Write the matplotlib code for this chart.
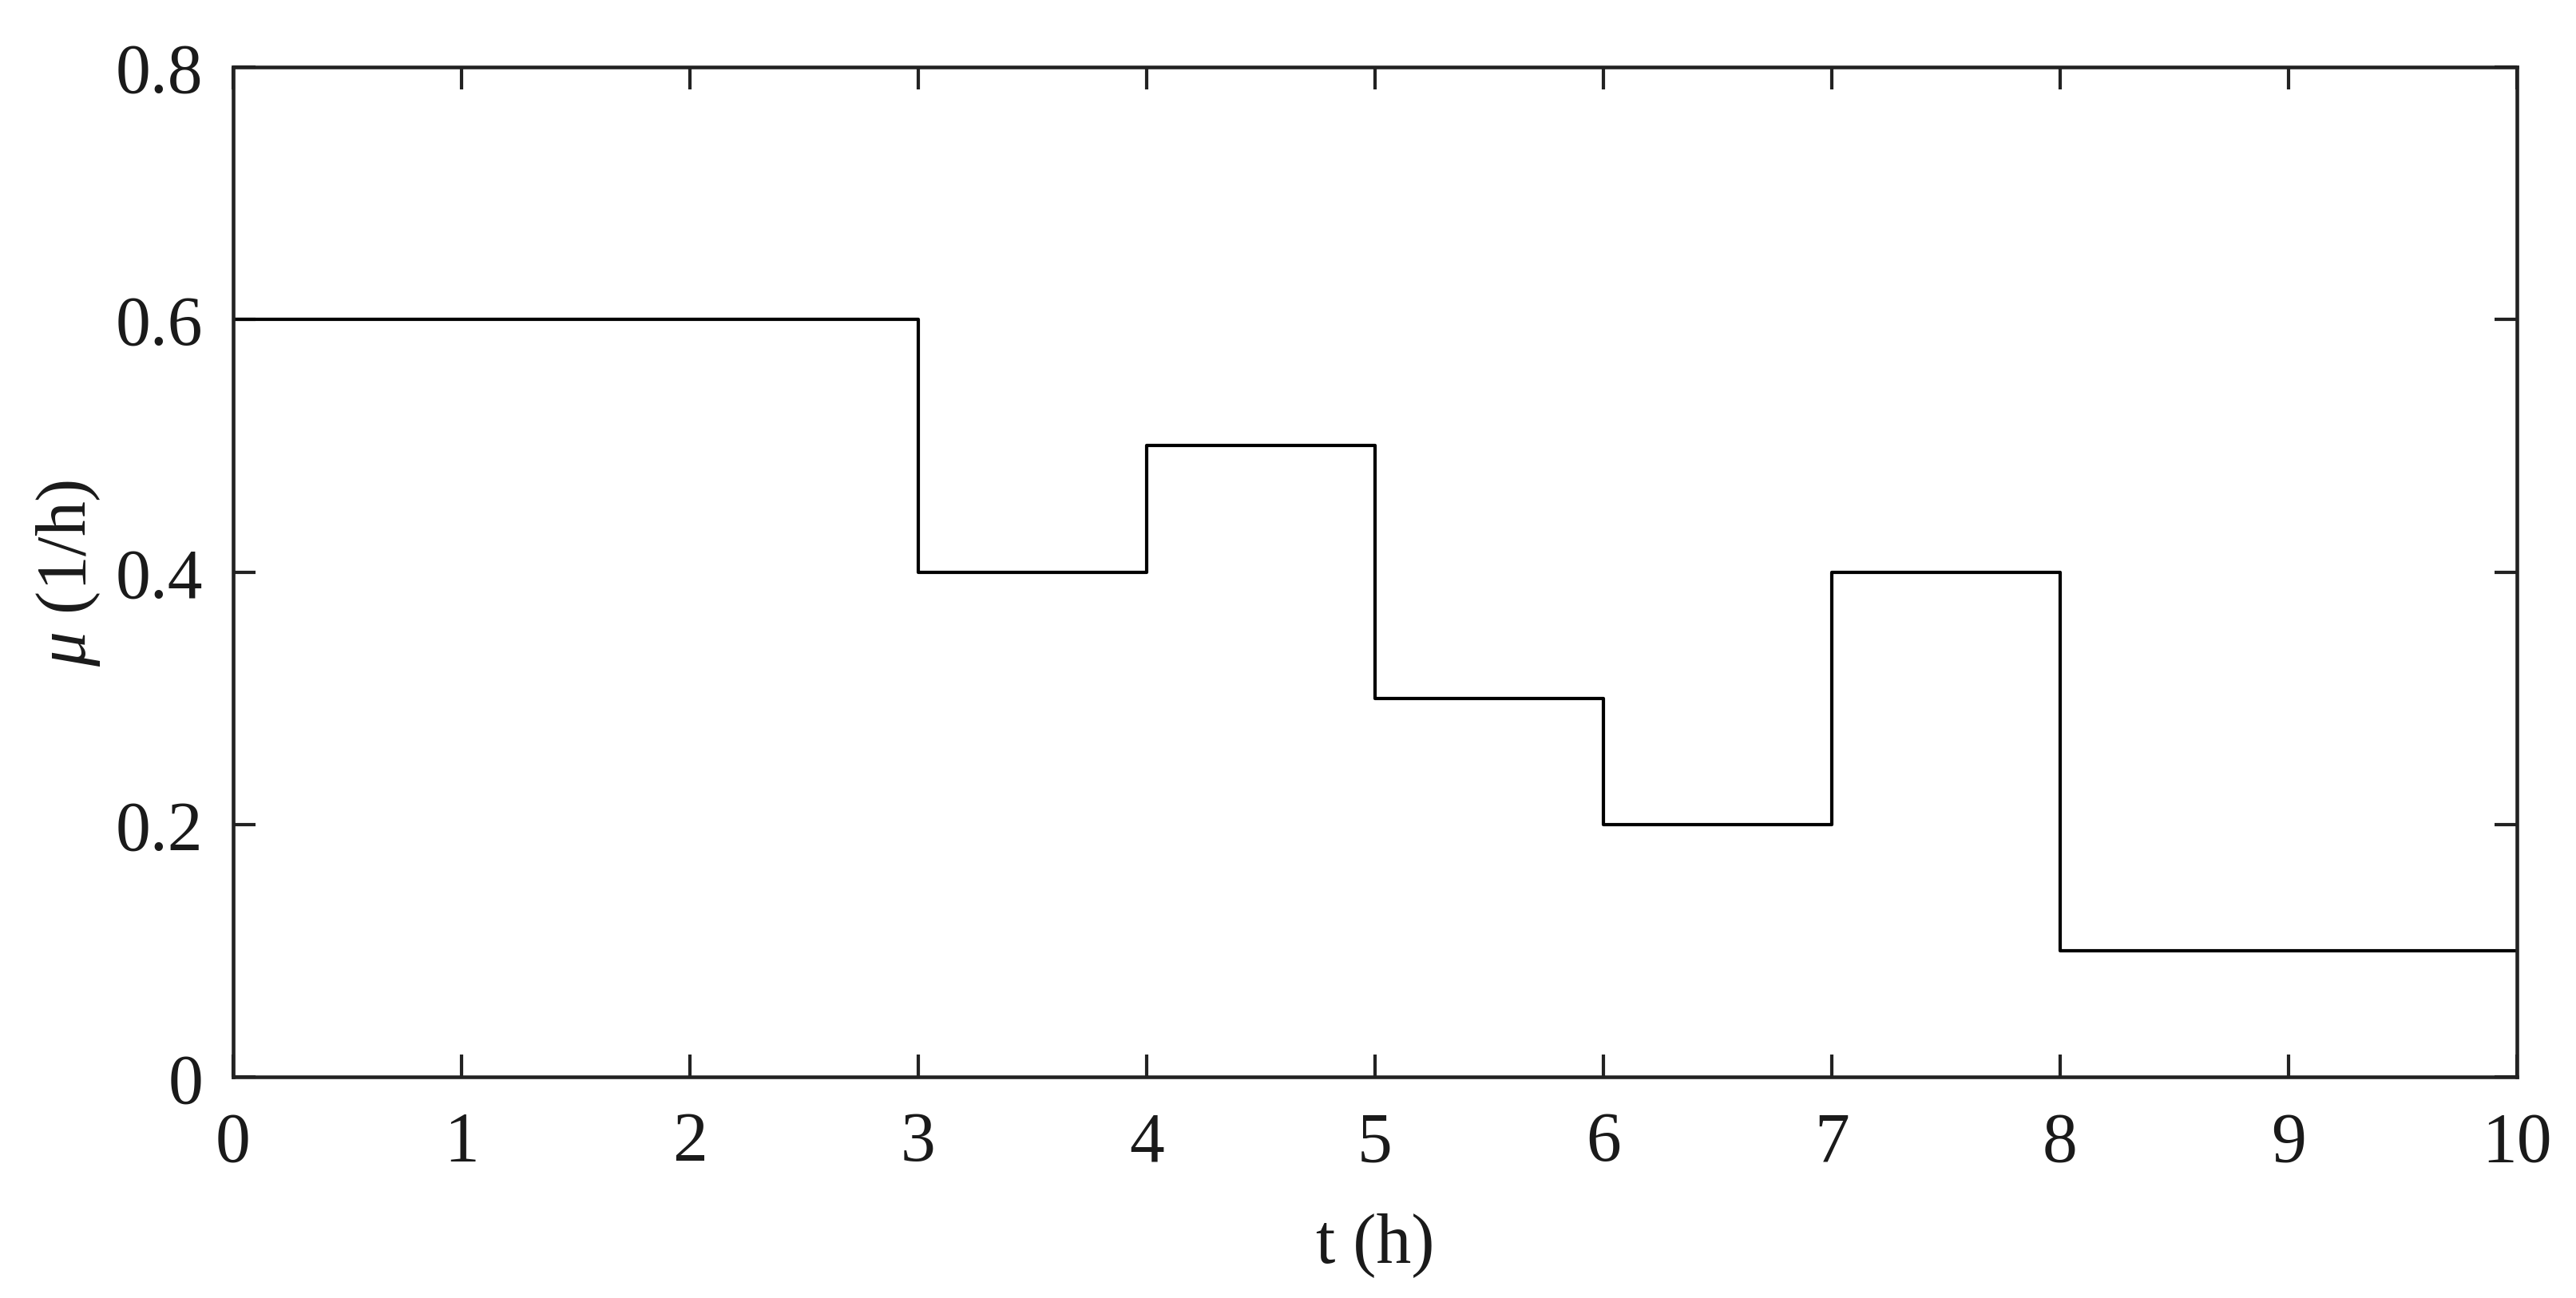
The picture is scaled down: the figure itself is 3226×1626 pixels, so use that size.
import matplotlib
matplotlib.use("Agg")
import matplotlib.pyplot as plt

# step edges (h) and growth rate on each interval (1/h)
t_edges = [0, 3, 4, 5, 6, 7, 8, 10]
mu_vals = [0.6, 0.4, 0.5, 0.3, 0.2, 0.4, 0.1]
mu_start = 0.0

x_ticks = [0, 1, 2, 3, 4, 5, 6, 7, 8, 9, 10]
y_ticks = [0, 0.2, 0.4, 0.6, 0.8]
y_tick_labels = ["0", "0.2", "0.4", "0.6", "0.8"]

plt.rcParams['font.family'] = ['Liberation Serif', 'DejaVu Serif']
plt.rcParams['mathtext.fontset'] = 'custom'
plt.rcParams['mathtext.it'] = 'Liberation Serif:italic'
plt.rcParams['mathtext.rm'] = 'Liberation Serif'

fig = plt.figure(figsize=(3226 / 300, 1627 / 300), dpi=300)
ax = fig.add_axes([0.0905, 0.170, 0.8865, 0.778])

t = [t_edges[0]] + t_edges
mu = [mu_start] + mu_vals + [mu_vals[-1]]
ax.step(t, mu, where='post', color='black', lw=1.0)

ax.set_xlim(0, 10)
ax.set_ylim(0, 0.8)
ax.set_xticks(x_ticks)
ax.set_yticks(y_ticks)
ax.set_yticklabels(y_tick_labels)

edge = '#222222'
for s in ax.spines.values():
    s.set_linewidth(1.1)
    s.set_color(edge)
ax.tick_params(direction='in', top=True, right=True, length=6.8, width=1.0,
               color=edge, labelsize=21, labelcolor='#1a1a1a')
ax.tick_params(axis='x', pad=10)
ax.tick_params(axis='y', pad=9)

ax.set_xlabel('t (h)', fontsize=21, labelpad=11, color='#1a1a1a')
ax.set_ylabel(r'$\mu$ (1/h)', fontsize=21, labelpad=4, color='#1a1a1a')

fig.savefig('out.png', dpi=300)
